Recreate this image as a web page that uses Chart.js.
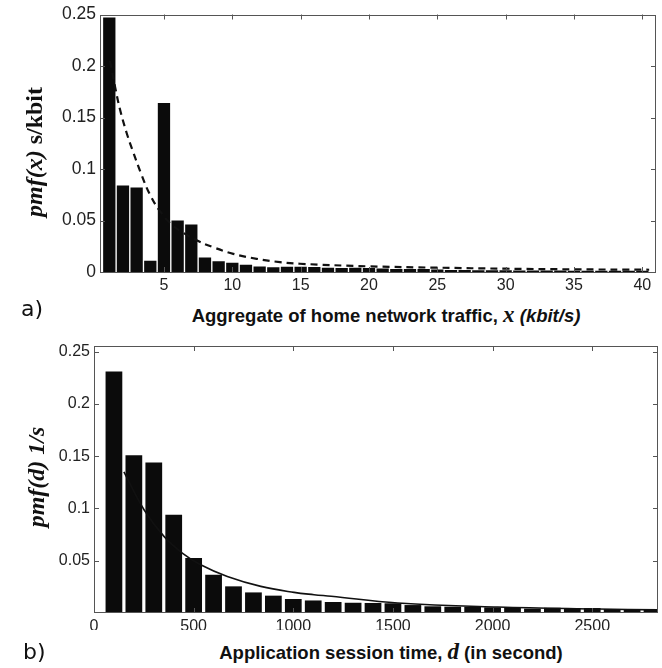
<!DOCTYPE html>
<html>
<head>
<meta charset="utf-8">
<script src="https://cdn.jsdelivr.net/npm/chart.js@4.4.1/dist/chart.umd.min.js"></script>
<style>
  body { margin: 0; background: #fff; }
  #wrap { position: relative; width: 662px; height: 668px; overflow: hidden; }
  .box { position: absolute; left: 0; width: 662px; height: 300px; }
  .lbl { position: absolute; white-space: nowrap; color: #111; line-height: 1.15; }
  .sans { font-family: "Liberation Sans", Arial, sans-serif; font-weight: bold; font-size: 18.5px; }
  .serif { font-family: "Liberation Serif", "Times New Roman", serif; font-weight: bold; }
  .tag { font-family: "DejaVu Sans", Verdana, sans-serif; font-size: 22px; }
  .ytitle { transform: translate(-50%, -50%) rotate(-90deg); font-size: 24px; }
</style>
</head>
<body>
<div id="wrap">
  <div class="box" style="top:0"><canvas id="chartA"></canvas></div>
  <div class="box" style="top:330px"><canvas id="chartB"></canvas></div>

  <div class="lbl ytitle serif" style="left:35px; top:152px"><i>pmf(x)</i> s/kbit</div>
  <div class="lbl sans" style="left:386px; top:302px; transform:translateX(-50%)">Aggregate of home network traffic, <span class="serif" style="font-size:23px; font-style:italic">x</span> <i>(kbit/s)</i></div>
  <div class="lbl tag" style="left:21px; top:296px">a)</div>

  <div class="lbl ytitle serif" style="left:37px; top:477px"><i>pmf(d) 1/s</i></div>
  <div class="lbl sans" style="left:391px; top:639px; transform:translateX(-50%)">Application session time, <span class="serif" style="font-size:23px; font-style:italic">d</span> (in second)</div>
  <div class="lbl tag" style="left:23px; top:639px">b)</div>
</div>

<script>
// a) aggregate home network traffic (kbit/s)
const trafficX = [1, 2, 3, 4, 5, 6, 7, 8, 9, 10, 11, 12, 13, 14, 15, 16, 17, 18, 19, 20,
                  21, 22, 23, 24, 25, 26, 27, 28, 29, 30, 31, 32, 33, 34, 35, 36, 37, 38, 39, 40];
const trafficPmf = [0.247, 0.084, 0.082, 0.011, 0.164, 0.050, 0.046, 0.014, 0.0105, 0.009,
                    0.007, 0.0054, 0.0045, 0.0052, 0.005, 0.0048, 0.0042, 0.004, 0.0042, 0.0038,
                    0.0035, 0.003, 0.003, 0.0028, 0.0025, 0.002, 0.002, 0.0018, 0.0018, 0.0016,
                    0.0015, 0.0015, 0.0014, 0.0014, 0.0013, 0.0013, 0.0012, 0.0012, 0.0012, 0.0011];
const trafficFitX = [1.05, 1.42, 1.78, 2.27, 2.76, 3.37, 3.98, 4.71, 5.56, 6.42, 7.51, 8.61,
                     10.07, 11.78, 13.49, 14.95, 20, 25, 30, 35, 40.5];
const trafficFitY = [0.205, 0.180, 0.158, 0.135, 0.116, 0.094, 0.075, 0.059, 0.046, 0.038, 0.030, 0.024,
                     0.0176, 0.0128, 0.0096, 0.008, 0.0055, 0.0042, 0.0032, 0.0026, 0.0022];
const trafficTicksX = [5, 10, 15, 20, 25, 30, 35, 40];
const trafficTicksY = [0, 0.05, 0.1, 0.15, 0.2, 0.25];

// b) application session time (s)
const sessionX = [100, 200, 300, 400, 500, 600, 700, 800, 900, 1000, 1100, 1200, 1300, 1400,
                  1500, 1600, 1700, 1800, 1900, 2000, 2100, 2200, 2300, 2400, 2500, 2600, 2700, 2800];
const sessionPmf = [0.231, 0.151, 0.144, 0.094, 0.0526, 0.0366, 0.0255, 0.0197, 0.0166, 0.0134,
                    0.012, 0.0105, 0.0098, 0.0096, 0.0093, 0.0076, 0.0064, 0.006, 0.006, 0.0054,
                    0.0056, 0.0042, 0.005, 0.0047, 0.0047, 0.0038, 0.0038, 0.0038];
const sessionFitX = [150, 251, 351, 443, 535, 669, 837, 1004, 1104, 1190, 1524, 2026, 2527, 2830];
const sessionFitY = [0.135, 0.0988, 0.0733, 0.0574, 0.0462, 0.035, 0.0255, 0.0197, 0.0175, 0.016,
                     0.0096, 0.0057, 0.0038, 0.003];
const sessionTicksX = [0, 500, 1000, 1500, 2000, 2500];
const sessionTicksY = [0.05, 0.1, 0.15, 0.2, 0.25];

const fontFamily = '"Liberation Sans", Arial, sans-serif';

// matlab style frame with inward tick marks on all four sides
const matlabBox = {
    id: 'matlabBox',
    afterDraw(chart) {
        const { ctx, chartArea: a, scales } = chart;
        ctx.save();
        ctx.strokeStyle = '#555';
        ctx.lineWidth = 1;
        ctx.strokeRect(Math.round(a.left) + 0.5, Math.round(a.top) + 0.5,
                       Math.round(a.width) - 1, Math.round(a.height) - 1);
        ctx.beginPath();
        scales.x.ticks.forEach(t => {
            const px = Math.round(scales.x.getPixelForValue(t.value)) + 0.5;
            ctx.moveTo(px, a.bottom); ctx.lineTo(px, a.bottom - 5);
            ctx.moveTo(px, a.top); ctx.lineTo(px, a.top + 5);
        });
        scales.y.ticks.forEach(t => {
            const py = Math.round(scales.y.getPixelForValue(t.value)) + 0.5;
            ctx.moveTo(a.left, py); ctx.lineTo(a.left + 5, py);
            ctx.moveTo(a.right, py); ctx.lineTo(a.right - 5, py);
        });
        ctx.stroke();
        ctx.restore();
    }
};

function pts(xs, ys) {
    return xs.map((x, i) => ({ x: x, y: ys[i] }));
}

function makeChart(id, cfg) {
    return new Chart(document.getElementById(id).getContext('2d'), {
        type: 'bar',
        data: {
            datasets: [{
                type: 'line',
                data: pts(cfg.fitX, cfg.fitY),
                borderColor: '#111',
                borderWidth: cfg.lineWidth,
                borderDash: cfg.dash,
                pointRadius: 0,
                tension: 0.4,
                fill: false,
                order: 0
            }, {
                type: 'bar',
                data: pts(cfg.x, cfg.y),
                backgroundColor: '#0b0b0b',
                borderWidth: 0,
                barPercentage: cfg.barPct,
                categoryPercentage: 1,
                order: 1
            }]
        },
        options: {
            responsive: true,
            maintainAspectRatio: false,
            animation: false,
            layout: { padding: cfg.padding },
            plugins: { legend: { display: false }, tooltip: { enabled: false } },
            scales: {
                x: {
                    type: 'linear',
                    offset: false,
                    min: cfg.xMin,
                    max: cfg.xMax,
                    grid: { display: false, drawTicks: false, offset: false },
                    border: { display: false },
                    afterBuildTicks: s => { s.ticks = cfg.ticksX.map(v => ({ value: v })); },
                    afterFit: s => { s.height = cfg.xAxisH; },
                    ticks: { font: { family: fontFamily, size: 16 }, color: '#222', padding: 4,
                             maxRotation: 0, callback: v => String(v) }
                },
                y: {
                    min: 0,
                    max: cfg.yMax,
                    grid: { display: false, drawTicks: false },
                    border: { display: false },
                    afterBuildTicks: s => { s.ticks = cfg.ticksY.map(v => ({ value: v })); },
                    afterFit: s => { s.width = cfg.yAxisW; },
                    ticks: { font: { family: fontFamily, size: cfg.yFont }, color: '#222', padding: 4,
                             callback: v => String(+v.toFixed(2)) }
                }
            }
        },
        plugins: [matlabBox]
    });
}

makeChart('chartA', {
    x: trafficX, y: trafficPmf, fitX: trafficFitX, fitY: trafficFitY,
    ticksX: trafficTicksX, ticksY: trafficTicksY,
    xMin: 0.32, xMax: 41, yMax: 0.25, yFont: 17.5,
    barPct: 0.9, lineWidth: 2.2, dash: [7, 5],
    padding: { top: 10, right: 6, left: 0, bottom: 0 },
    xAxisH: 28, yAxisW: 100
});

makeChart('chartB', {
    x: sessionX, y: sessionPmf, fitX: sessionFitX, fitY: sessionFitY,
    ticksX: sessionTicksX, ticksY: sessionTicksY,
    xMin: 0, xMax: 2830, yMax: 0.2555, yFont: 16,
    barPct: 0.84, lineWidth: 1.6, dash: [],
    padding: { top: 16, right: 4, left: 0, bottom: 0 },
    xAxisH: 17, yAxisW: 94
});
</script>
</body>
</html>
